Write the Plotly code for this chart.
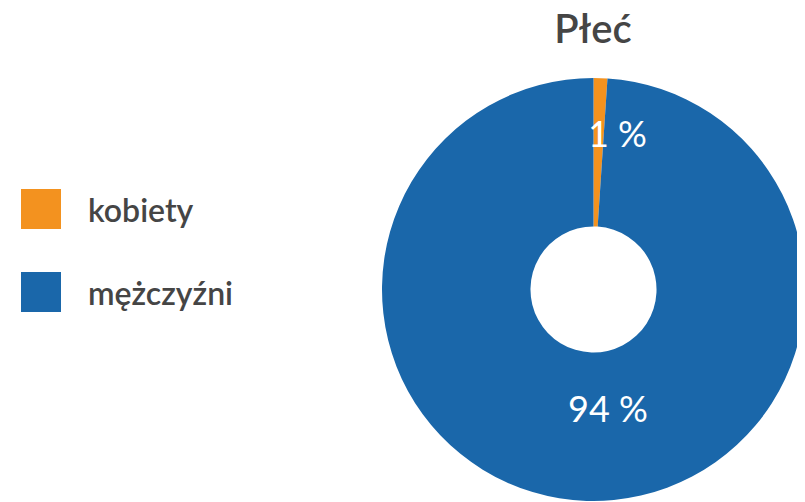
import math
import plotly.graph_objects as go

labels = ["kobiety", "mężczyźni"]
values = [1, 94]
colors = ["#F3921F", "#1A67AA"]
title_text = "Płeć"

# page body has an 8px margin, so the figure is sized to the visible area
W, H = 797, 494
dom_x = [374 / W, 1.0]
dom_y = [0.0, 1 - 69 / H]
hole = 0.298

fig = go.Figure()
fig.add_trace(go.Pie(
    labels=labels,
    values=values,
    marker=dict(colors=colors, line=dict(width=0)),
    hole=hole,
    sort=False,
    direction="clockwise",
    rotation=0,
    textinfo="none",
    showlegend=False,
    hoverinfo="label+percent",
    domain=dict(x=dom_x, y=dom_y),
))

# data labels placed at the middle of each slice (derived from values)
cx = (dom_x[0] + dom_x[1]) / 2
cy = (dom_y[0] + dom_y[1]) / 2
r_px = min((dom_x[1] - dom_x[0]) * W, (dom_y[1] - dom_y[0]) * H) / 2
r_lab = r_px * (1 + hole) / 2
total = sum(values)
annotations = []
cum = 0
for v in values:
    theta = (cum + v / 2) / total * 2 * math.pi
    cum += v
    annotations.append(dict(
        text=f"{v} %", xref="paper", yref="paper",
        x=cx + r_lab * math.sin(theta) / W,
        y=cy + r_lab * math.cos(theta) / H,
        xanchor="center", yanchor="middle", xshift=19, yshift=19,
        showarrow=False,
        font=dict(family="Lato", size=36, color="white")))

# custom legend (large square swatches)
shapes = []
legend_y = [201, 284]
for i, (lab, col) in enumerate(zip(labels, colors)):
    yc = legend_y[i]
    shapes.append(dict(type="rect", xref="paper", yref="paper",
                       x0=13 / W, x1=53 / W,
                       y0=1 - (yc + 20) / H, y1=1 - (yc - 20) / H,
                       fillcolor=col, line=dict(width=0)))
    annotations.append(dict(text=lab, xref="paper", yref="paper",
                            x=78 / W, y=1 - yc / H, xanchor="left", yanchor="middle",
                            showarrow=False,
                            font=dict(family="Lato", size=32, weight=600, color="#454545")))

fig.update_layout(
    width=W, height=H,
    margin=dict(l=0, r=0, t=0, b=0),
    paper_bgcolor="white",
    plot_bgcolor="white",
    title=dict(text=title_text, x=585 / W, xanchor="center",
               y=1 - 7 / H, yref="container", yanchor="top",
               font=dict(family="Lato", size=40, weight=600, color="#454545")),
    shapes=shapes,
    annotations=annotations,
)

fig.write_html("out.html")
